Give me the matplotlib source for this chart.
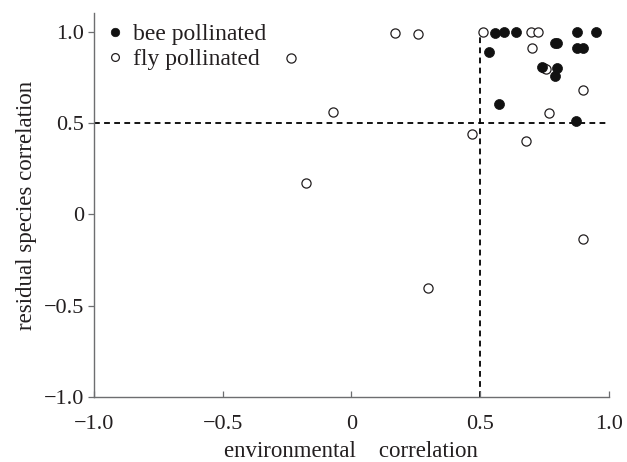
import matplotlib
matplotlib.use('Agg')
import matplotlib.pyplot as plt

plt.rcParams['font.family'] = ['Liberation Serif', 'DejaVu Serif']
plt.rcParams['font.size'] = 16
plt.rcParams['axes.unicode_minus'] = True

bee_x = [0.557, 0.593, 0.641, 0.877, 0.949, 0.535, 0.79, 0.80, 0.875, 0.90,
         0.739, 0.797, 0.790, 0.574, 0.871]
bee_y = [0.995, 1.0, 1.0, 1.0, 1.0, 0.89, 0.94, 0.94, 0.913, 0.913,
         0.81, 0.80, 0.76, 0.607, 0.51]

fly_x = [0.51, 0.697, 0.726, 0.702, 0.748, 0.757, 0.898, 0.768, 0.469, 0.68,
         0.169, 0.259, -0.235, -0.071, -0.177, 0.298, 0.898]
fly_y = [1.0, 1.0, 1.0, 0.913, 0.80, 0.795, 0.68, 0.557, 0.44, 0.405,
         0.995, 0.99, 0.859, 0.564, 0.172, -0.404, -0.133]

ticks = [-1.0, -0.5, 0, 0.5, 1.0]
tick_labels = ['\u22121.0', '\u22120.5', '0', '0.5', '1.0']
threshold = 0.5

txt = '#231f20'
grey = '#6d6e70'

fig = plt.figure(figsize=(6.27, 4.62), dpi=100)
ax = fig.add_axes([0.150, 0.1407, 0.821, 0.8312])

ax.plot([-1, 1], [threshold, threshold], ls=(0, (3.2, 2.4)), color='k', lw=1.3, zorder=1)
ax.plot([threshold, threshold], [-1, 1], ls=(0, (3.2, 2.4)), color='k', lw=1.3, zorder=1)

ax.plot(fly_x, fly_y, 'o', ms=6.6, mfc='white', mec='#231f20', mew=0.9,
        ls='none', label='fly pollinated', zorder=3)
ax.plot(bee_x, bee_y, 'o', ms=7.2, mfc='#111111', mec='#111111', mew=0.5,
        ls='none', label='bee pollinated', zorder=4)

ax.set_xlim(-1, 1)
ax.set_ylim(-1, 1.104)
ax.set_xticks(ticks)
ax.set_xticklabels(tick_labels)
ax.set_yticks(ticks)
ax.set_yticklabels(tick_labels)

for s in ['top', 'right']:
    ax.spines[s].set_visible(False)
for s in ['left', 'bottom']:
    ax.spines[s].set_color(grey)
    ax.spines[s].set_linewidth(1.0)

ax.tick_params(axis='x', direction='in', length=4, width=0.9, color=grey,
               labelcolor=txt, pad=13)
ax.tick_params(axis='y', direction='out', length=4, width=0.9, color=grey,
               labelcolor=txt, pad=3)

ax.set_xlabel('environmental    correlation', color=txt, fontsize=16.5, labelpad=5)
ax.set_ylabel('residual species correlation', color=txt, fontsize=16.5, labelpad=5)

h, l = ax.get_legend_handles_labels()
leg = ax.legend(h[::-1], l[::-1], loc='upper left', bbox_to_anchor=(0.027, 0.972),
                frameon=False, handlelength=0.6, handletextpad=0.45, fontsize=17,
                borderpad=0, labelspacing=0.15, borderaxespad=0, markerscale=0.85)
for t in leg.get_texts():
    t.set_color(txt)

fig.savefig('out.png', dpi=100)
